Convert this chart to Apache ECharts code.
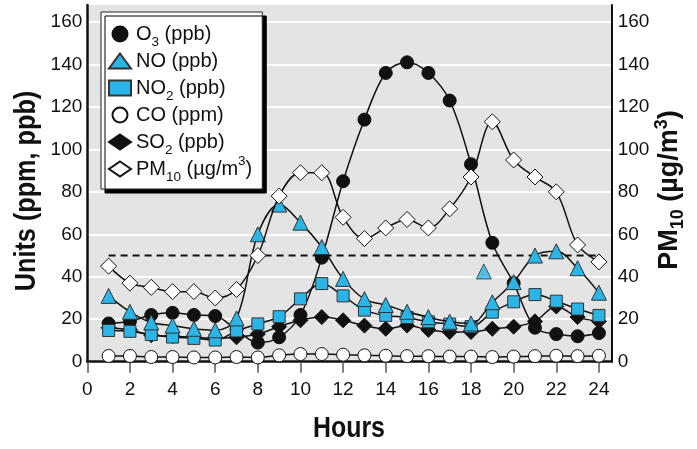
<!DOCTYPE html>
<html><head><meta charset="utf-8">
<script src="https://cdn.jsdelivr.net/npm/echarts@6/dist/echarts.min.js"></script>
<style>html,body{margin:0;padding:0;background:#fff}#c{width:697px;height:449px}</style>
</head><body><div id="c"></div>
<script>
const hours = [1,2,3,4,5,6,7,8,9,10,11,12,13,14,15,16,17,18,19,20,21,22,23,24];
const o3   = [18, 19, 22, 23, 22, 21.5, 15, 9, 11.5, 22, 49, 85, 114, 136, 141, 136, 123, 93, 56, 37, 16, 13, 12, 13.5];
const no   = [31, 23.5, 18.5, 17, 15.5, 14.8, 20.4, 60, 74, 65.5, 54, 39, 29.5, 26.7, 23.5, 21, 18.8, 18, 28, 37.5, 50, 52, 44, 32.5];
const no2  = [14.7, 14.3, 12.8, 11.6, 11, 10.2, 14.5, 17.8, 21.2, 29.6, 36.8, 31, 24.3, 21.8, 20.8, 18.8, 17.7, 16.5, 23.3, 28.2, 31.6, 28.5, 24.8, 21.8];
const co   = [2.7, 2.7, 2.2, 2.2, 2, 2, 2.2, 2, 3, 3.6, 3.6, 3.3, 3, 2.8, 2.6, 2.6, 2.4, 2.4, 2.2, 2.4, 2.6, 2.8, 2.6, 2.8];
const so2  = [16, 15, 12.5, 12, 11.5, 11, 11.5, 13, 16.5, 19.5, 21, 19.5, 17, 15.5, 17, 15, 14, 14, 15.5, 16.5, 19, 26, 21, 19];
const pm10 = [45, 37, 35, 33, 33, 30, 34, 50, 78, 89, 89, 68, 58, 63, 67, 63, 72, 87, 113, 95, 87, 80, 55, 47];
const noStray = [[18.6, 42.5]];
const thresholdValue = 50;
const thresholdFrom = 1, thresholdTo = 24.1;
const xTicks = [0,2,4,6,8,10,12,14,16,18,20,22,24];
const yTicks = [0,20,40,60,80,100,120,140,160];
const names = ['O3 (ppb)', 'NO (ppb)', 'NO2 (ppb)', 'CO (ppm)', 'SO2 (ppb)', 'PM10 (µg/m3)'];
const legendRich = {
  'O3 (ppb)': 'O{sub|3} (ppb)',
  'NO (ppb)': 'NO (ppb)',
  'NO2 (ppb)': 'NO{sub|2} (ppb)',
  'CO (ppm)': 'CO (ppm)',
  'SO2 (ppb)': 'SO{sub|2} (ppb)',
  'PM10 (µg/m3)': 'PM{sub|10} (µg/m{sup|3})'
};

const FONT = "'Liberation Sans',Arial,sans-serif";
const BLUE = '#2bb4e6';
const pair = arr => hours.map((h, i) => [h, arr[i]]);

function mk(name, data, symbol, size, fill, border, z) {
  return {
    name, type: 'line', data: pair(data), symbol, symbolSize: size, smooth: 0.35, z,
    itemStyle: { color: fill, borderColor: border, borderWidth: 1, opacity: 1 },
    lineStyle: { color: '#111', width: 1.5 },
    emphasis: { disabled: true }
  };
}

const chart = echarts.init(document.getElementById('c'), null, { renderer: 'canvas' });
chart.setOption({
  animation: false,
  backgroundColor: '#fff',
  grid: { left: 87.3, right: 85.3, top: 5, bottom: 87.3, show: true, backgroundColor: '#e4e4e4', borderWidth: 0 },
  xAxis: {
    type: 'value', min: 0, max: 24.6, interval: 2,
    axisLine: { show: true, onZero: false, lineStyle: { color: '#111', width: 2.5 } },
    axisTick: { show: true, customValues: xTicks, length: 11, inside: false, lineStyle: { color: '#555', width: 1.5 } },
    axisLabel: { customValues: xTicks, margin: 19, fontSize: 19, color: '#111', fontFamily: FONT },
    splitLine: { show: false }
  },
  yAxis: [
    {
      type: 'value', min: 0, max: 168, interval: 20, position: 'left',
      axisLine: { show: true, lineStyle: { color: '#111', width: 2.5 } },
      axisTick: { show: false },
      axisLabel: { customValues: yTicks, margin: 5, fontSize: 19, color: '#111', fontFamily: FONT },
      splitLine: { show: true, showMinLine: false, showMaxLine: false, lineStyle: { color: '#fff', width: 2 } }
    },
    {
      type: 'value', min: 0, max: 168, interval: 20, position: 'right',
      axisLine: { show: true, lineStyle: { color: '#111', width: 2 } },
      axisTick: { show: false },
      axisLabel: { customValues: yTicks, margin: 6, fontSize: 19, color: '#111', fontFamily: FONT },
      splitLine: { show: false }
    }
  ],
  legend: {
    orient: 'vertical', left: 101, top: 12,
    padding: [7, 10, 5, 7], itemGap: -3, itemWidth: 22, itemHeight: 15,
    backgroundColor: '#fff', borderColor: '#222', borderWidth: 1,
    shadowColor: '#000', shadowOffsetX: 4, shadowOffsetY: 4, shadowBlur: 0,
    selectedMode: false,
    data: [
      { name: names[0], icon: 'circle' },
      { name: names[1], icon: 'triangle' },
      { name: names[2], icon: 'rect' },
      { name: names[3], icon: 'circle' },
      { name: names[4], icon: 'diamond' },
      { name: names[5], icon: 'diamond' }
    ],
    formatter: n => legendRich[n] || n,
    textStyle: {
      fontSize: 20, fontFamily: FONT, color: '#111', lineHeight: 30,
      rich: {
        sub: { fontSize: 13.5, fontFamily: FONT, color: '#111', verticalAlign: 'bottom', lineHeight: 14 },
        sup: { fontSize: 13.5, fontFamily: FONT, color: '#111', verticalAlign: 'top', lineHeight: 14 }
      }
    }
  },
  series: [
    {
      name: 'threshold', type: 'line', data: [[thresholdFrom, thresholdValue], [thresholdTo, thresholdValue]],
      symbol: 'none', silent: true, z: 1,
      lineStyle: { color: '#111', width: 2, type: [7, 5] }
    },
    mk(names[3], co, 'circle', 13, '#fff', '#111', 2),
    mk(names[4], so2, 'diamond', 15, '#111', '#111', 3),
    mk(names[0], o3, 'circle', 13, '#111', '#111', 4),
    mk(names[2], no2, 'rect', 12, BLUE, '#333', 5),
    mk(names[1], no, 'triangle', 15, BLUE, '#333', 6),
    {
      name: names[1], type: 'scatter', data: noStray, symbol: 'triangle', symbolSize: 15, z: 6,
      itemStyle: { color: BLUE, borderColor: '#333', borderWidth: 1 }
    },
    mk(names[5], pm10, 'diamond', 16, '#fff', '#111', 7)
  ],
  graphic: [
    {
      type: 'text', x: 27, y: 191, rotation: Math.PI / 2, scaleX: 0.87,
      style: { text: 'Units (ppm, ppb)', fontSize: 29, fontWeight: 'bold', fontFamily: FONT, fill: '#111',
               textAlign: 'center', textVerticalAlign: 'middle', align: 'center', verticalAlign: 'middle' }
    },
    {
      type: 'text', x: 670, y: 190, rotation: Math.PI / 2,
      style: {
        text: 'PM{sub|10} (µg/m{sup|3})', fontSize: 27, fontWeight: 'bold', fontFamily: FONT, fill: '#111',
        textAlign: 'center', textVerticalAlign: 'middle', align: 'center', verticalAlign: 'middle', lineHeight: 34,
        rich: {
          sub: { fontSize: 18, fontWeight: 'bold', fontFamily: FONT, fill: '#111', verticalAlign: 'bottom', lineHeight: 18 },
          sup: { fontSize: 18, fontWeight: 'bold', fontFamily: FONT, fill: '#111', verticalAlign: 'top', lineHeight: 18 }
        }
      }
    },
    {
      type: 'text', x: 349, y: 429, scaleX: 0.83,
      style: { text: 'Hours', fontSize: 30, fontWeight: 'bold', fontFamily: FONT, fill: '#111',
               textAlign: 'center', textVerticalAlign: 'middle', align: 'center', verticalAlign: 'middle' }
    }
  ]
});
</script>
</body></html>
